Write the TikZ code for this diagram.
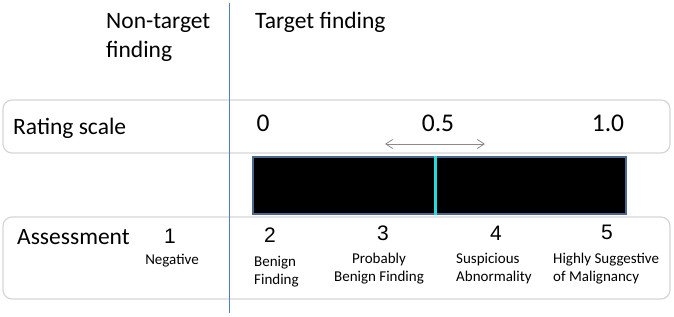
\documentclass[tikz,border=0pt]{standalone}
\usepackage{fontspec}
\setmainfont{Carlito}
\newfontfamily\arialfont{Liberation Sans}
\usetikzlibrary{arrows.meta,calc}
\definecolor{rsDivider}{HTML}{4F80C4}
\definecolor{rsPanel}{HTML}{D6D6D6}
\definecolor{rsBarEdge}{HTML}{4A6890}
\definecolor{rsCut}{HTML}{22DDDD}
\definecolor{rsArrow}{HTML}{8A8A8A}
\tikzset{
  % Light rounded panel
  panel/.style={rectangle,rounded corners=9pt,
    draw=rsPanel,line width=1.2pt,
    minimum width=667pt,inner sep=0pt},
  % Black rating bar
  ratebar/.style={rectangle,fill=black,draw=rsBarEdge,
    line width=1.5pt,inner sep=0pt,
    minimum width=373pt,minimum height=57pt},
  % Heading text
  head/.style={inner sep=0pt,align=left,
    font=\fontsize{23.5}{29}\selectfont},
  % Scale values
  val/.style={inner sep=0pt,anchor=base,
    font=\fontsize{25.5}{30}\selectfont},
  % Category numbers
  num/.style={inner sep=0pt,anchor=base,
    font=\arialfont\fontsize{21}{25}\selectfont},
  % Category labels
  lbl/.style={inner sep=0pt,
    font=\fontsize{15}{17.5}\selectfont},
  % Arrows and lines
  arr/.style={<->,>={Straight Barb[length=7pt,width=9pt]},
    line width=0.8pt,color=rsArrow},
  divider/.style={line width=1.6pt,color=rsDivider},
  cut/.style={line width=3pt,color=rsCut},
}

\begin{document}
\begin{tikzpicture}[x=1pt,y=-1pt]
  \useasboundingbox (0,0) rectangle (674,316);
  \node[panel,minimum height=53pt] (rate) at (336.5,126.5) {};
  \node[panel,minimum height=82pt] (assess) at (336.5,258) {};
  \node[ratebar] (bar) at (439.5,185.5) {};

  \coordinate (divtop) at (229.5,3);
  \coordinate (divbot) at (229.5,313);
  \draw[divider] (divtop) -- (divbot);
  \draw[cut] ($(bar.north west)!0.488!(bar.north east)$)
    -- ($(bar.south west)!0.488!(bar.south east)$);
  \coordinate (spanl) at (385,144);
  \coordinate (spanr) at (485,144);
  \draw[arr] (spanl) -- (spanr);

  % last line baseline is the node base
  \node[head,anchor=base west] (nontgt) at (106,57) {Non-target\\finding};
  \node[head,anchor=base west] (tgt) at (255,28) {Target finding};
  \node[head,anchor=base west] (ratelbl) at (13,134) {Rating scale};
  \node[val] (v0) at (263,131) {0};
  \node[val] (v05) at (438,131) {0.5};
  \node[val] (v1) at (608,131) {1.0};

  \node[head,anchor=base west] (asslbl) at (17,244) {Assessment};
  \node[num] (n1) at (170,243) {1};
  \node[num] (n2) at (270,242) {2};
  \node[num] (n3) at (383,240) {3};
  \node[num] (n4) at (496,240) {4};
  \node[num] (n5) at (607,239) {5};
  \node[lbl,anchor=base] (neg) at (172,264) {Negative};
  \node[lbl,anchor=base west,align=left] (benign) at (254,284) {Benign\\Finding};
  \node[lbl,anchor=base,align=center] (prob) at (379,281) {Probably\\Benign Finding};
  \node[lbl,anchor=base west,align=left] (susp) at (456,281) {Suspicious\\Abnormality};
  \node[lbl,anchor=base west,align=left] (high) at (553,281) {Highly Suggestive\\of Malignancy};
\end{tikzpicture}
\end{document}
